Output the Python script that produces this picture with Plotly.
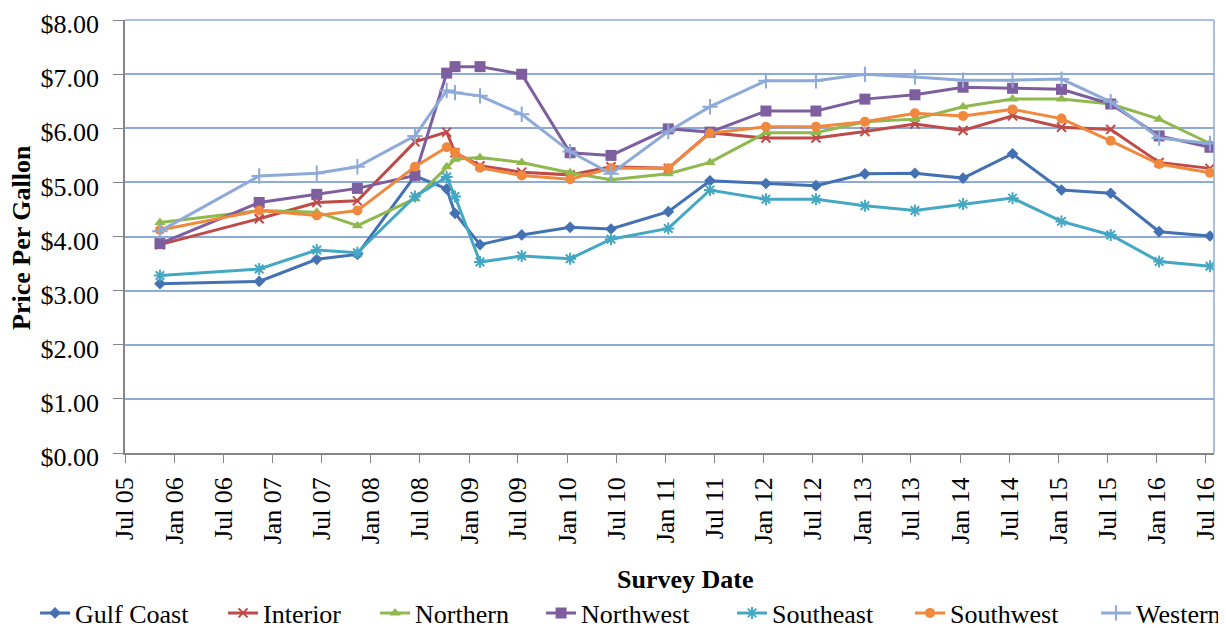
import plotly.graph_objects as go

survey_dates = ["2005-11-08", "2006-11-12", "2007-06-14", "2007-11-12", "2008-06-13",
                "2008-10-09", "2008-11-09", "2009-02-10", "2009-07-15", "2010-01-11",
                "2010-06-12", "2011-01-11", "2011-06-15", "2012-01-09", "2012-07-13",
                "2013-01-11", "2013-07-16", "2014-01-11", "2014-07-14", "2015-01-12",
                "2015-07-14", "2016-01-10", "2016-07-17"]

gulf_coast = [3.13, 3.17, 3.58, 3.67, 5.12, 4.88, 4.43, 3.85, 4.03, 4.17, 4.14, 4.46,
              5.03, 4.98, 4.94, 5.16, 5.17, 5.08, 5.53, 4.86, 4.80, 4.09, 4.01]
interior = [3.85, 4.33, 4.63, 4.66, 5.75, 5.93, 5.55, 5.31, 5.19, 5.14, 5.29, 5.26,
            5.92, 5.82, 5.82, 5.94, 6.08, 5.96, 6.23, 6.02, 5.98, 5.37, 5.26]
northern = [4.26, 4.48, 4.45, 4.20, 4.70, 5.29, 5.43, 5.46, 5.37, 5.18, 5.05, 5.16,
            5.37, 5.92, 5.92, 6.12, 6.17, 6.40, 6.54, 6.54, 6.45, 6.17, 5.72]
northwest = [3.87, 4.63, 4.78, 4.89, 5.13, 7.02, 7.14, 7.14, 7.00, 5.55, 5.50, 5.99,
             5.93, 6.32, 6.32, 6.54, 6.62, 6.76, 6.74, 6.72, 6.45, 5.86, 5.65]
southeast = [3.28, 3.40, 3.75, 3.70, 4.74, 5.10, 4.74, 3.53, 3.64, 3.59, 3.95, 4.15,
             4.86, 4.69, 4.69, 4.57, 4.48, 4.60, 4.71, 4.28, 4.03, 3.54, 3.45]
southwest = [4.12, 4.48, 4.39, 4.48, 5.29, 5.65, 5.56, 5.27, 5.13, 5.06, 5.26, 5.26,
             5.91, 6.03, 6.03, 6.12, 6.28, 6.23, 6.35, 6.18, 5.77, 5.34, 5.18]
western = [4.10, 5.12, 5.17, 5.29, 5.86, 6.70, 6.66, 6.60, 6.26, 5.57, 5.16, 5.94,
           6.40, 6.88, 6.88, 7.00, 6.95, 6.89, 6.89, 6.91, 6.49, 5.82, 5.72]

series_names = ["Gulf Coast", "Interior", "Northern", "Northwest", "Southeast", "Southwest", "Western"]
series_values = [gulf_coast, interior, northern, northwest, southeast, southwest, western]
y_tickvals = [0, 1, 2, 3, 4, 5, 6, 7, 8]

colors = ["#4471B2", "#BE4B48", "#8FB84F", "#7D5FA0", "#44A8C3", "#F0893E", "#8EAAD8"]
symbols = ["diamond", "x-thin-open", "triangle-up", "square", "asterisk-open", "circle", "cross-thin-open"]
sizes = [9, 9, 10, 11, 10, 10, 11]
marker_line_widths = [0, 2, 0, 0, 2, 0, 2]
legend_widths = [143, 107, 121, 146, 133, 141, 95]

FONT = "Liberation Serif"

fig = go.Figure()
for name, vals, c, sym, sz, mlw, lw in zip(series_names, series_values, colors, symbols,
                                            sizes, marker_line_widths, legend_widths):
    fig.add_trace(go.Scatter(
        x=survey_dates, y=vals, name=name, mode="lines+markers",
        line=dict(color=c, width=3),
        marker=dict(symbol=sym, size=sz, color=c, line=dict(color=c, width=mlw)),
        legendwidth=lw,
    ))

# page body has an 8px margin, so the figure is sized/offset to compensate
fig.update_layout(
    width=1218, height=620,
    margin=dict(l=117, r=12, t=12, b=175, autoexpand=False),
    paper_bgcolor="white", plot_bgcolor="white",
    font=dict(family=FONT, size=26, color="black"),
    showlegend=True,
    legend=dict(orientation="h", xref="paper", yref="paper", x=-0.0826, xanchor="left",
                y=-0.3695, yanchor="middle", font=dict(size=26, family=FONT),
                itemwidth=30, tracegroupgap=0, bgcolor="rgba(0,0,0,0)"),
)

fig.update_xaxes(
    type="date", range=["2005-07-01", "2016-08-01"],
    tick0="2005-07-01", dtick="M6", tickformat="%b %y", tickangle=-90,
    ticks="outside", ticklen=8, tickcolor="#868686", ticklabelstandoff=4,
    ticklabeloverflow="allow",
    showline=True, linecolor="#868686", linewidth=1.5,
    showgrid=False, zeroline=False,
    tickfont=dict(size=26, family=FONT),
)
fig.update_yaxes(
    range=[0, 8.002], tickmode="array", tickvals=y_tickvals, tickformat="$.2f",
    ticks="outside", ticklen=10, tickcolor="#868686", ticklabelstandoff=9,
    ticklabelshift=4, ticklabeloverflow="allow",
    showline=True, linecolor="#868686", linewidth=1.5,
    showgrid=True, gridcolor="#8EAADB", gridwidth=1.5,
    zeroline=False,
    tickfont=dict(size=26, family=FONT),
)

fig.add_shape(type="line", xref="x domain", yref="y domain", x0=1, x1=1, y0=0, y1=1,
              line=dict(color="#8EAADB", width=1.5))
fig.add_shape(type="line", xref="x domain", yref="y domain", x0=0, x1=1, y0=1, y1=1,
              line=dict(color="#8EAADB", width=1.5), layer="below")

fig.add_annotation(text="<b>Survey Date</b>", xref="paper", yref="paper",
                   x=0.514, y=-0.293, xanchor="center", yanchor="middle",
                   showarrow=False, font=dict(size=26, family=FONT))
fig.add_annotation(text="<b>Price Per Gallon</b>", xref="paper", yref="paper",
                   x=-0.0946, y=0.499, xanchor="center", yanchor="middle", textangle=-90,
                   showarrow=False, font=dict(size=26, family=FONT))

fig.write_html("out.html")
